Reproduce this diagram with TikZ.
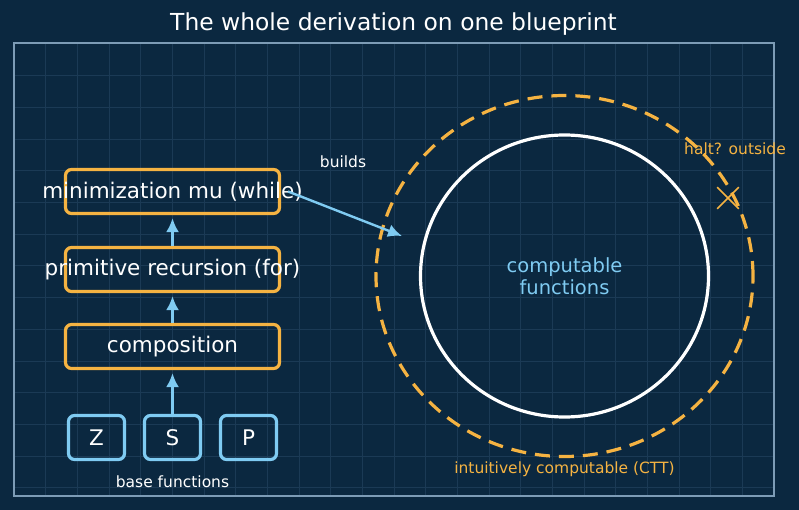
\documentclass[tikz,border=0pt]{standalone}
\usepackage{fontspec}
\setmainfont{DejaVu Sans}
\usepackage{tikz}
\usetikzlibrary{arrows.meta,positioning,shapes.geometric,shapes.misc}
\definecolor{bpbg}{HTML}{0B2840}
\definecolor{bpgrid}{HTML}{1B3A55}
\definecolor{bpframe}{HTML}{7D9CB6}
\definecolor{bporange}{HTML}{F5B342}
\definecolor{bpblue}{HTML}{7FCBF2}
\newcommand{\fsz}[1]{\fontsize{#1}{#1}\selectfont}

\begin{document}
\begin{tikzpicture}[x=1pt,y=-1pt,
  obox/.style={draw=bporange,line width=3.2pt,rounded corners=6pt,minimum width=214pt,minimum height=44pt},
  bbox/.style={draw=bpblue,line width=3.2pt,rounded corners=6pt,minimum width=56pt,minimum height=44pt,text=white,font=\fsz{21.5}},
  btext/.style={text=white,font=\fsz{21.5}},
  small/.style={font=\fsz{15.5}},
  uparrow/.style={-{Latex[length=14pt,width=13pt]},draw=bpblue,fill=bpblue,line width=2.4pt,shorten >=3pt}]
\fill[bpbg] (0,0) rectangle (799,510);
\useasboundingbox (0,0) rectangle (799,510);
% blueprint grid and frame
\foreach \i in {1,...,23} {\draw[bpgrid,line width=1pt] ({14+31.67*\i},43) -- ({14+31.67*\i},496);}
\foreach \j in {1,...,14} {\draw[bpgrid,line width=1pt] (14,{44.3+31.67*\j}) -- (774,{44.3+31.67*\j});}
\draw[bpframe,line width=2pt] (14,43) rectangle (774,496);
\node[text=white,font=\fsz{23.4}] (title) at (393.5,24) {The whole derivation on one blueprint};
% ladder of constructions
\node[obox,label={[btext]center:minimization mu (while)}] (mu) at (172.5,191.5) {};
\node[obox,label={[btext]center:primitive recursion (for)}] (prim) at (172.5,269.5) {};
\node[obox,label={[btext]center:composition}] (comp) at (172.5,346.5) {};
\foreach \n/\x in {Z/96.5,S/172.5,P/248.5} {\node[bbox] (\n) at (\x,437.5) {\n};}
\node[small,text=white] (base) at (172.5,482) {base functions};
\draw[uparrow] (S) -- (comp);
\draw[uparrow] (comp) -- (prim);
\draw[uparrow] (prim) -- (mu);
% the two regions
\node[ellipse,draw=bporange,line width=3.2pt,dash pattern=on 15pt off 9pt,minimum width=377pt,minimum height=361pt] (ctt) at (564.5,276) {};
\node[ellipse,draw=white,line width=3.2pt,minimum width=288pt,minimum height=282pt,inner sep=0pt,
  text=bpblue,align=center,font=\fontsize{19.5}{22}\selectfont] (cf) at (564.5,276) {computable\\functions};
\node[small,text=bporange] (cttlbl) at (564.5,469) {intuitively computable (CTT)};
\coordinate (bt) at (402,236);
\draw[uparrow,shorten >=0pt] ([xshift=7pt]mu.east) -- (bt);
\node[small,text=white] (builds) at (343,162) {builds};
\node[cross out,draw=bporange,line width=1.6pt,minimum size=20pt,inner sep=0pt] (halt) at (728,198) {};
\node[small,text=bporange] (haltlbl) at (735,149) {halt? outside};
\end{tikzpicture}
\end{document}
